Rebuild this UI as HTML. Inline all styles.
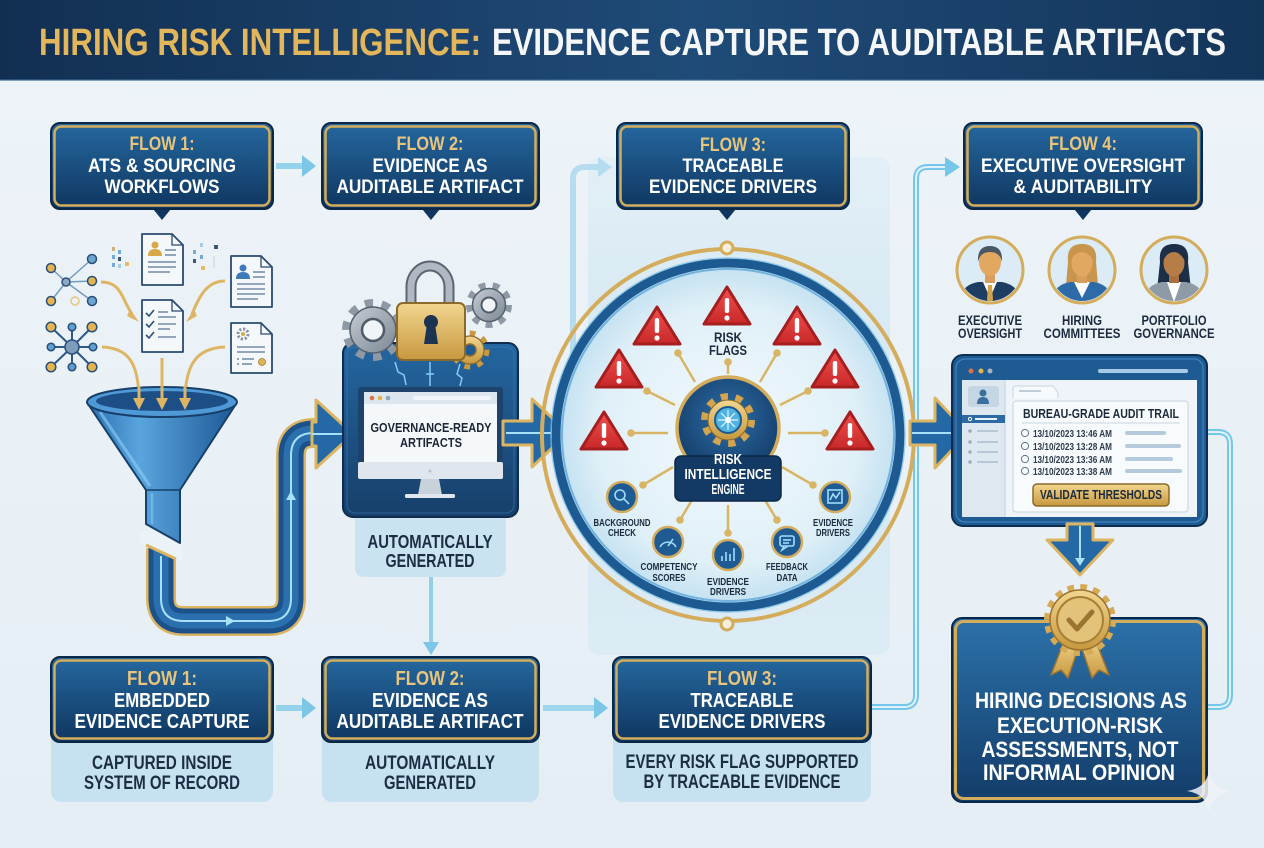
<!DOCTYPE html>
<html><head><meta charset="utf-8"><style>
html,body{margin:0;padding:0;background:#e9f1f7;}
svg{display:block;}
text{font-family:"Liberation Sans Narrow","Liberation Sans",sans-serif;font-weight:bold;}
</style></head><body>
<svg width="1264" height="848" viewBox="0 0 1264 848" xmlns="http://www.w3.org/2000/svg">
<defs>
<linearGradient id="bg" x1="0" y1="0" x2="0" y2="1"><stop offset="0" stop-color="#eef4f8"/><stop offset="1" stop-color="#e5eef5"/></linearGradient>
<linearGradient id="hdr" x1="0" y1="0" x2="1" y2="0"><stop offset="0" stop-color="#122f52"/><stop offset="0.55" stop-color="#1f4b78"/><stop offset="1" stop-color="#14355a"/></linearGradient>
<linearGradient id="box" x1="0" y1="0" x2="0" y2="1"><stop offset="0" stop-color="#25689f"/><stop offset="1" stop-color="#0f3660"/></linearGradient>
<linearGradient id="fbox" x1="0" y1="0" x2="0" y2="1"><stop offset="0" stop-color="#2c72aa"/><stop offset="1" stop-color="#133c69"/></linearGradient>
<linearGradient id="gold" x1="0" y1="0" x2="0" y2="1"><stop offset="0" stop-color="#f2d68f"/><stop offset="1" stop-color="#c7983f"/></linearGradient>
<linearGradient id="panel" x1="0" y1="0" x2="0" y2="1"><stop offset="0" stop-color="#e3eff6"/><stop offset="0.5" stop-color="#d2e7f3"/><stop offset="1" stop-color="#dcecf5"/></linearGradient>
<linearGradient id="red" x1="0" y1="0" x2="0" y2="1"><stop offset="0" stop-color="#f05050"/><stop offset="1" stop-color="#c82828"/></linearGradient>
<linearGradient id="funnel" x1="0" y1="0" x2="1" y2="0"><stop offset="0" stop-color="#2a6fb0"/><stop offset="0.35" stop-color="#5aa5de"/><stop offset="1" stop-color="#1c5895"/></linearGradient>
<linearGradient id="mon" x1="0" y1="0" x2="0" y2="1"><stop offset="0" stop-color="#2466a0"/><stop offset="1" stop-color="#173f6a"/></linearGradient>
<linearGradient id="grayg" x1="0" y1="0" x2="1" y2="1"><stop offset="0" stop-color="#c5ccd4"/><stop offset="1" stop-color="#7c8894"/></linearGradient>
<radialGradient id="ring" cx="0.5" cy="0.5" r="0.5"><stop offset="0" stop-color="#f2f9fd"/><stop offset="0.75" stop-color="#e0f0f8"/><stop offset="1" stop-color="#c2e0f0"/></radialGradient>
<radialGradient id="eng" cx="0.5" cy="0.4" r="0.6"><stop offset="0" stop-color="#2d6ea8"/><stop offset="1" stop-color="#143c68"/></radialGradient>
<clipPath id="c1"><circle cx="990" cy="270" r="31"/></clipPath>
<clipPath id="c2"><circle cx="1082" cy="270" r="31"/></clipPath>
<clipPath id="c3"><circle cx="1174" cy="270" r="31"/></clipPath>
</defs>

<!-- background -->
<rect width="1264" height="848" fill="url(#bg)"/>
<!-- header -->
<rect width="1264" height="80" fill="url(#hdr)"/>
<rect y="79" width="1264" height="2" fill="#3b6892" opacity="0.6"/>
<text x="39" y="55" font-size="38" fill="#e3b65c" textLength="442" lengthAdjust="spacingAndGlyphs">HIRING RISK INTELLIGENCE:</text>
<text x="492" y="55" font-size="38" fill="#f4f6f8" textLength="734" lengthAdjust="spacingAndGlyphs">EVIDENCE CAPTURE TO AUDITABLE ARTIFACTS</text>

<!-- light panel behind circle -->
<rect x="588" y="157" width="302" height="498" rx="12" fill="url(#panel)"/>

<!-- pale connector to box 3 -->
<path d="M573 410 V179 Q573 167 585 167 H600" stroke="#b6ddef" stroke-width="6" fill="none"/>
<polygon points="598,157 612,167 598,177" fill="#b6ddef"/>

<!-- right connector (bottom flow 3 -> flow 4) -->
<path d="M871 707 H904 Q916 707 916 695 V179 Q916 167 928 167 H948" stroke="#74c6ea" stroke-width="6" fill="none"/>
<path d="M871 707 H904 Q916 707 916 695 V179 Q916 167 928 167 H948" stroke="#dff2fa" stroke-width="2" fill="none"/>
<polygon points="945,157 960,167 945,177" fill="#74c6ea"/>
<!-- right-side connector window -> final box -->
<path d="M1200 432 H1218 Q1230 432 1230 444 V695 Q1230 707 1218 707 H1200" stroke="#74c6ea" stroke-width="6" fill="none"/>
<path d="M1200 432 H1218 Q1230 432 1230 444 V695 Q1230 707 1218 707 H1200" stroke="#dff2fa" stroke-width="2" fill="none"/>

<!-- top arrows between boxes -->
<rect x="276" y="163" width="28" height="6" fill="#94d2ec"/>
<polygon points="302,155 316,166 302,177" fill="#7cc7e8"/>
<!-- bottom arrows -->
<rect x="276" y="705" width="28" height="6" fill="#94d2ec"/>
<polygon points="302,697 316,708 302,719" fill="#7cc7e8"/>
<rect x="543" y="705" width="52" height="6" fill="#9fd6ee"/>
<polygon points="594,697 608,708 594,719" fill="#7cc7e8"/>
<!-- vertical arrow under automatically generated -->
<rect x="429" y="577" width="4" height="68" fill="#92d0ea"/>
<polygon points="423,642 439,642 431,655" fill="#7cc7e8"/>

<!-- ===== TOP BOXES ===== -->
<g>
<polygon points="149,204 175,204 162,220" fill="#0f3660"/>
<rect x="51" y="123" width="222" height="86" rx="9" fill="url(#box)" stroke="#0b2746" stroke-width="2"/>
<rect x="54.5" y="126.5" width="215" height="79" rx="7" fill="none" stroke="#d4ad5c" stroke-width="2.5"/>
<text x="162" y="150" text-anchor="middle" font-size="19" fill="#e8c47c" textLength="65" lengthAdjust="spacingAndGlyphs">FLOW 1:</text>
<text x="162" y="172" text-anchor="middle" font-size="19" fill="#fff" textLength="148" lengthAdjust="spacingAndGlyphs">ATS &amp; SOURCING</text>
<text x="162" y="193" text-anchor="middle" font-size="19" fill="#fff" textLength="115" lengthAdjust="spacingAndGlyphs">WORKFLOWS</text>
</g>
<g>
<polygon points="418,204 444,204 431,220" fill="#0f3660"/>
<rect x="322" y="123" width="217" height="86" rx="9" fill="url(#box)" stroke="#0b2746" stroke-width="2"/>
<rect x="325.5" y="126.5" width="210" height="79" rx="7" fill="none" stroke="#d4ad5c" stroke-width="2.5"/>
<text x="430" y="150" text-anchor="middle" font-size="19" fill="#e8c47c" textLength="67" lengthAdjust="spacingAndGlyphs">FLOW 2:</text>
<text x="430" y="172" text-anchor="middle" font-size="19" fill="#fff" textLength="115" lengthAdjust="spacingAndGlyphs">EVIDENCE AS</text>
<text x="430" y="193" text-anchor="middle" font-size="19" fill="#fff" textLength="187" lengthAdjust="spacingAndGlyphs">AUDITABLE ARTIFACT</text>
</g>
<g>
<polygon points="714,204 740,204 727,220" fill="#0f3660"/>
<rect x="617" y="123" width="232" height="86" rx="9" fill="url(#box)" stroke="#0b2746" stroke-width="2"/>
<rect x="620.5" y="126.5" width="225" height="79" rx="7" fill="none" stroke="#d4ad5c" stroke-width="2.5"/>
<text x="733" y="151" text-anchor="middle" font-size="19" fill="#e8c47c" textLength="66" lengthAdjust="spacingAndGlyphs">FLOW 3:</text>
<text x="733" y="172" text-anchor="middle" font-size="19" fill="#fff" textLength="101" lengthAdjust="spacingAndGlyphs">TRACEABLE</text>
<text x="733" y="193" text-anchor="middle" font-size="19" fill="#fff" textLength="168" lengthAdjust="spacingAndGlyphs">EVIDENCE DRIVERS</text>
</g>
<g>
<polygon points="1070,204 1096,204 1083,220" fill="#0f3660"/>
<rect x="964" y="123" width="238" height="86" rx="9" fill="url(#box)" stroke="#0b2746" stroke-width="2"/>
<rect x="967.5" y="126.5" width="231" height="79" rx="7" fill="none" stroke="#d4ad5c" stroke-width="2.5"/>
<text x="1083" y="150" text-anchor="middle" font-size="19" fill="#e8c47c" textLength="68" lengthAdjust="spacingAndGlyphs">FLOW 4:</text>
<text x="1083" y="172" text-anchor="middle" font-size="19" fill="#fff" textLength="204" lengthAdjust="spacingAndGlyphs">EXECUTIVE OVERSIGHT</text>
<text x="1083" y="193" text-anchor="middle" font-size="19" fill="#fff" textLength="139" lengthAdjust="spacingAndGlyphs">&amp; AUDITABILITY</text>
</g>

<!-- ===== LEFT ILLUSTRATION ===== -->
<!-- network 1 -->
<g stroke="#6f9cc0" stroke-width="1.5">
<line x1="66" y1="282" x2="51" y2="268"/><line x1="66" y1="282" x2="92" y2="259"/><line x1="66" y1="282" x2="92" y2="281"/><line x1="66" y1="282" x2="51" y2="301"/><line x1="66" y1="282" x2="92" y2="301"/>
</g>
<g stroke="#2b4f78" stroke-width="1.5">
<circle cx="51" cy="268" r="4.5" fill="#e2b452"/><circle cx="92" cy="259" r="4.5" fill="#6aa6d2"/><circle cx="92" cy="281" r="4.5" fill="#e2b452"/><circle cx="51" cy="301" r="4.5" fill="#e2b452"/><circle cx="92" cy="301" r="4.5" fill="#6aa6d2"/>
<circle cx="66" cy="282" r="4" fill="#8fa9c2"/>
</g>
<circle cx="75" cy="301" r="4" fill="none" stroke="#e2b452" stroke-width="1.5" opacity="0.7"/>
<!-- network 2 -->
<g stroke="#2b5a88" stroke-width="2">
<line x1="72" y1="347" x2="51" y2="327"/><line x1="72" y1="347" x2="72" y2="327"/><line x1="72" y1="347" x2="92" y2="327"/><line x1="72" y1="347" x2="51" y2="347"/><line x1="72" y1="347" x2="93" y2="347"/><line x1="72" y1="347" x2="51" y2="367"/><line x1="72" y1="347" x2="72" y2="367"/><line x1="72" y1="347" x2="92" y2="367"/>
</g>
<g stroke="#2b4f78" stroke-width="1.5">
<circle cx="51" cy="327" r="4.8" fill="#e2b452"/><circle cx="72" cy="327" r="3.8" fill="#5e9fd0"/><circle cx="92" cy="327" r="4.8" fill="#e2b452"/><circle cx="51" cy="347" r="3.8" fill="#5e9fd0"/><circle cx="93" cy="347" r="3.8" fill="#5e9fd0"/><circle cx="51" cy="367" r="4.8" fill="#e2b452"/><circle cx="72" cy="367" r="3.8" fill="#5e9fd0"/><circle cx="92" cy="367" r="4.8" fill="#e2b452"/>
<circle cx="72" cy="347" r="7" fill="#7d9dbd"/>
</g>
<!-- small bar dots -->
<g opacity="0.85">
<rect x="112" y="247" width="3" height="4" fill="#c9a86a"/><rect x="112" y="255" width="3" height="4" fill="#5e9fd0"/><rect x="112" y="263" width="3" height="4" fill="#5e9fd0"/>
<rect x="118" y="250" width="3" height="4" fill="#5e9fd0"/><rect x="118" y="257" width="3" height="4" fill="#1d3c66"/><rect x="118" y="264" width="3" height="4" fill="#9cc6e4"/>
<rect x="125" y="262" width="4" height="4" fill="#e2b452"/>
<rect x="193" y="250" width="3" height="4" fill="#5e9fd0"/><rect x="193" y="259" width="3" height="4" fill="#1d3c66"/>
<rect x="200" y="243" width="3" height="4" fill="#9cc6e4"/><rect x="200" y="255" width="3" height="4" fill="#5e9fd0"/><rect x="201" y="266" width="4" height="4" fill="#e2b452"/>
<rect x="214" y="245" width="4" height="4" fill="#1d3c66"/><rect x="213" y="256" width="2" height="12" fill="#cfe2ef"/>
</g>
<!-- gold curved arrows -->
<g stroke="#ddb565" stroke-width="3" fill="none">
<path d="M101 282 C122 282 122 300 132 314"/>
<path d="M225 281 C205 281 198 300 192 314"/>
<path d="M102 347 C130 348 139 365 139 402"/>
<path d="M162 358 V402"/>
<path d="M225 347 C196 348 185 365 185 402"/>
</g>
<g fill="#ddb565">
<polygon points="127,316 139,322 130,309"/>
<polygon points="197,316 186,322 194,309"/>
</g>
<!-- docs -->
<g stroke="#2b4a70" stroke-width="1.8" stroke-linejoin="round">
<path d="M142 234 H172 L183 245 V285 H142 Z" fill="#f4f8fb"/>
<path d="M142 300 H172 L183 311 V352 H142 Z" fill="#f4f8fb"/>
<path d="M231 256 H261 L272 267 V307 H231 Z" fill="#f4f8fb"/>
<path d="M231 323 H261 L272 334 V373 H231 Z" fill="#f4f8fb"/>
</g>
<g fill="none" stroke="#2b4a70" stroke-width="1.3">
<path d="M172 234 V245 H183"/><path d="M172 300 V311 H183"/><path d="M261 256 V267 H272"/><path d="M261 323 V334 H272"/>
</g>
<!-- doc contents -->
<circle cx="155" cy="245" r="3.5" fill="#d9a948"/><path d="M148 256 Q148 249 155 249 Q162 249 162 256 Z" fill="#d9a948"/>
<g stroke="#5a7696" stroke-width="1.3"><line x1="165" y1="250" x2="176" y2="250"/><line x1="165" y1="255" x2="176" y2="255"/><line x1="148" y1="262" x2="176" y2="262"/><line x1="148" y1="267" x2="176" y2="267"/><line x1="148" y1="272" x2="170" y2="272"/></g>
<g stroke="#2b4f78" stroke-width="1.6" fill="none"><path d="M146 313 l3 3 l5 -6"/><path d="M146 324 l3 3 l5 -6"/><path d="M146 335 l3 3 l5 -6"/></g>
<g stroke="#5a7696" stroke-width="1.3"><line x1="158" y1="312" x2="168" y2="312"/><line x1="158" y1="317" x2="176" y2="317"/><line x1="158" y1="324" x2="176" y2="324"/><line x1="158" y1="329" x2="170" y2="329"/><line x1="158" y1="337" x2="176" y2="337"/></g>
<circle cx="243" cy="268" r="3.5" fill="#3d7ab8"/><path d="M236 279 Q236 272 243 272 Q250 272 250 279 Z" fill="#3d7ab8"/>
<g stroke="#5a7696" stroke-width="1.3"><line x1="253" y1="272" x2="265" y2="272"/><line x1="253" y1="277" x2="265" y2="277"/><line x1="237" y1="284" x2="265" y2="284"/><line x1="237" y1="289" x2="265" y2="289"/><line x1="237" y1="294" x2="265" y2="294"/><line x1="237" y1="299" x2="258" y2="299"/></g>
<circle cx="243" cy="334" r="5" fill="none" stroke="#8a96a3" stroke-width="3" stroke-dasharray="2.2 1.7"/><circle cx="243" cy="334" r="2" fill="#d9a948"/>
<g stroke="#5a7696" stroke-width="1.3"><line x1="237" y1="347" x2="265" y2="347"/><line x1="237" y1="352" x2="265" y2="352"/><line x1="237" y1="359" x2="239" y2="359"/><line x1="242" y1="359" x2="254" y2="359"/><line x1="237" y1="364" x2="239" y2="364"/><line x1="242" y1="364" x2="252" y2="364"/></g>
<circle cx="262" cy="362" r="3.5" fill="#e2b452" stroke="#9c7b35" stroke-width="0.8"/>

<!-- pipe (drawn before funnel) -->
<path d="M161 548 V598 Q161 621 184 621 H268 Q291 621 291 598 V456 Q291 433 314 433 H322" fill="none" stroke="#dcb563" stroke-width="30"/>
<path d="M161 548 V598 Q161 621 184 621 H268 Q291 621 291 598 V456 Q291 433 314 433 H322" fill="none" stroke="#1c5189" stroke-width="25"/>
<path d="M161 548 V598 Q161 621 184 621 H268 Q291 621 291 598 V456 Q291 433 314 433 H322" fill="none" stroke="#2a6fae" stroke-width="15"/>
<path d="M161 556 V598 Q161 621 184 621 H268 Q291 621 291 598 V456 Q291 433 314 433 H330" fill="none" stroke="#a6e0fb" stroke-width="2"/>
<!-- slanted pipe top cut -->
<polygon points="140,530 140,544 182,562 182,530" fill="#ecf3f8"/>
<path d="M146 545 L176 559" stroke="#dcb563" stroke-width="3"/>
<polygon points="226,616 235,621 226,626" fill="#a6e0fb"/>
<polygon points="286,500 291,491 296,500" fill="#a6e0fb"/>
<polygon points="316,422 316,400 353,434 316,468 316,446 312,446 312,422" fill="#2468a6" stroke="#dcb563" stroke-width="3" stroke-linejoin="round"/>
<path d="M312 434 H345" stroke="#a6e0fb" stroke-width="2"/>

<!-- funnel -->
<path d="M88 404 L146 490 V524 L180 543 V490 L236 404 Z" fill="url(#funnel)" stroke="#173f6a" stroke-width="2" stroke-linejoin="round"/>
<path d="M146 490 H180" stroke="#173f6a" stroke-width="1.5"/>
<path d="M100 412 L150 486" stroke="#8fd0f5" stroke-width="3" opacity="0.6"/>
<path d="M152 493 V524" stroke="#8fd0f5" stroke-width="2.5" opacity="0.5"/>
<ellipse cx="162" cy="402" rx="75" ry="15" fill="#4f9ad6" stroke="#173f6a" stroke-width="2"/>
<ellipse cx="162" cy="401" rx="66" ry="10" fill="#1d4f86"/>
<g fill="#ddb565">
<polygon points="133,398 145,398 139,410"/>
<polygon points="156,398 168,398 162,410"/>
<polygon points="179,398 191,398 185,410"/>
</g>
<g stroke="#ddb565" stroke-width="3"><line x1="139" y1="386" x2="139" y2="400"/><line x1="162" y1="386" x2="162" y2="400"/><line x1="185" y1="386" x2="185" y2="400"/></g>

<!-- auto generated panel -->
<rect x="355" y="500" width="151" height="77" rx="8" fill="#c9e3f1"/>
<text x="430" y="548" text-anchor="middle" font-size="18" fill="#1c2d44" font-weight="normal" textLength="125" lengthAdjust="spacingAndGlyphs">AUTOMATICALLY</text>
<text x="430" y="567" text-anchor="middle" font-size="18" fill="#1c2d44" font-weight="normal" textLength="89" lengthAdjust="spacingAndGlyphs">GENERATED</text>

<!-- monitor panel -->
<rect x="343" y="343" width="175" height="174" rx="10" fill="url(#mon)" stroke="#0e2d50" stroke-width="2"/>
<rect x="347" y="347" width="167" height="166" rx="8" fill="none" stroke="#3b7dba" stroke-width="1" opacity="0.6"/>
<g stroke="#8fd8ff" stroke-width="1.5" fill="none" opacity="0.9">
<path d="M395 362 L398 372 L404 375 L406 385"/><path d="M430 362 V386 M426 374 H434"/><path d="M460 364 L457 374 L462 378 L460 386"/>
</g>
<rect x="358" y="387" width="145" height="77" rx="3" fill="#1d426c"/>
<rect x="358" y="462" width="145" height="17" rx="2" fill="#dfe6ed"/>
<circle cx="430" cy="471" r="1.5" fill="#b8c4cf"/>
<path d="M421 479 H439 L442 495 H418 Z" fill="#c9d2da"/>
<rect x="405" y="494" width="50" height="4" rx="1.5" fill="#dfe6ed"/>
<rect x="364" y="392" width="133" height="70" fill="#f5f8fb"/>
<rect x="364" y="392" width="133" height="12" fill="#dce6ef"/>
<circle cx="372" cy="398" r="2.3" fill="#e0704a"/><circle cx="380" cy="398" r="2.3" fill="#e6b34a"/><circle cx="388" cy="398" r="2.3" fill="#8fa5b8"/>
<rect x="413" y="396" width="78" height="4" rx="2" fill="#f2f6fa"/>
<text x="431" y="432" text-anchor="middle" font-size="12.5" fill="#1c2535" textLength="121" lengthAdjust="spacingAndGlyphs">GOVERNANCE-READY</text>
<text x="431" y="447" text-anchor="middle" font-size="12.5" fill="#1c2535" textLength="62" lengthAdjust="spacingAndGlyphs">ARTIFACTS</text>
<!-- gears -->
<g transform="translate(373,330)">
<circle r="26" fill="none" stroke="#8e99a5" stroke-width="10" stroke-dasharray="8 8.34"/>
<circle r="23" fill="url(#grayg)" stroke="#55626f" stroke-width="1.5"/>
<circle r="11" fill="#f0f4f8" stroke="#4d5a67" stroke-width="2.5"/>
</g>
<g transform="translate(489,305)">
<circle r="19" fill="none" stroke="#8e99a5" stroke-width="8" stroke-dasharray="6.5 6.77"/>
<circle r="16.5" fill="url(#grayg)" stroke="#55626f" stroke-width="1.5"/>
<circle r="7.5" fill="#f0f4f8" stroke="#4d5a67" stroke-width="2"/>
</g>
<g transform="translate(470,350)">
<circle r="16" fill="none" stroke="#c99a40" stroke-width="7" stroke-dasharray="5.5 7"/>
<circle r="14" fill="url(#gold)" stroke="#8d6a2c" stroke-width="1.2"/>
<circle r="6" fill="#1f5a93" stroke="#8d6a2c" stroke-width="1.5"/>
</g>
<!-- lock -->
<path d="M411 305 V287 A19 21 0 0 1 449 287 V305" fill="none" stroke="#5b6470" stroke-width="11"/>
<path d="M411 305 V287 A19 21 0 0 1 449 287 V305" fill="none" stroke="#b0b9c2" stroke-width="7"/>
<rect x="397" y="303" width="68" height="57" rx="6" fill="url(#gold)" stroke="#8a6a2a" stroke-width="2"/>
<circle cx="431" cy="322" r="7" fill="#1c3352"/>
<path d="M427 324 L424 344 H438 L435 324 Z" fill="#1c3352"/>
<!-- arrow to circle -->
<polygon points="503,421 532,421 532,399 568,433 532,467 532,445 503,445" fill="#2468a6" stroke="#dcb563" stroke-width="3" stroke-linejoin="round"/>
<path d="M506 433 H558" stroke="#a6e0fb" stroke-width="2"/>
<polygon points="551,428 560,433 551,438" fill="#a6e0fb"/>

<!-- ===== CIRCLE ENGINE ===== -->
<circle cx="728" cy="435" r="172" fill="url(#ring)"/>
<circle cx="728" cy="435" r="186" fill="none" stroke="#d4ad5c" stroke-width="4"/>
<circle cx="728" cy="435" r="172" fill="none" stroke="#1e5a92" stroke-width="9"/>
<circle cx="728" cy="435" r="166" fill="none" stroke="#6fb3de" stroke-width="2"/>
<circle cx="728" cy="435" r="177" fill="none" stroke="#7cc0e4" stroke-width="1.5" opacity="0.7"/>
<circle cx="727" cy="248" r="6" fill="#f6efde" stroke="#d4ad5c" stroke-width="3"/>
<circle cx="727" cy="624" r="6" fill="#f6efde" stroke="#d4ad5c" stroke-width="3"/>
<!-- spokes -->
<g stroke="#d8b565" stroke-width="2.5">
<line x1="728" y1="362" x2="728" y2="374"/>
<line x1="678" y1="353" x2="695" y2="382"/>
<line x1="777" y1="353" x2="760" y2="382"/>
<line x1="647" y1="391" x2="675" y2="405"/>
<line x1="808" y1="391" x2="780" y2="405"/>
<line x1="631" y1="433" x2="668" y2="433"/>
<line x1="825" y1="433" x2="788" y2="433"/>
<line x1="643" y1="485" x2="673" y2="467"/>
<line x1="813" y1="485" x2="782" y2="467"/>
<line x1="680" y1="520" x2="692" y2="500"/>
<line x1="728" y1="533" x2="728" y2="505"/>
<line x1="777" y1="520" x2="765" y2="500"/>
</g>
<g fill="#d8b565">
<circle cx="728" cy="362" r="3.8"/><circle cx="678" cy="353" r="3.8"/><circle cx="777" cy="353" r="3.8"/><circle cx="647" cy="391" r="3.8"/><circle cx="808" cy="391" r="3.8"/><circle cx="631" cy="433" r="3.8"/><circle cx="825" cy="433" r="3.8"/><circle cx="643" cy="485" r="3.8"/><circle cx="813" cy="485" r="3.8"/><circle cx="680" cy="520" r="3.8"/><circle cx="728" cy="533" r="3.8"/><circle cx="777" cy="520" r="3.8"/>
</g>
<!-- triangles -->
<g>
<g transform="translate(727,285)"><path d="M0 2 L23 39 L-23 39 Z" fill="url(#red)" stroke="#a61e1e" stroke-width="3" stroke-linejoin="round"/><rect x="-2.2" y="13" width="4.4" height="15" rx="2" fill="#fff"/><circle cy="33" r="2.6" fill="#fff"/></g>
<g transform="translate(657,305)"><path d="M0 2 L23 39 L-23 39 Z" fill="url(#red)" stroke="#a61e1e" stroke-width="3" stroke-linejoin="round"/><rect x="-2.2" y="13" width="4.4" height="15" rx="2" fill="#fff"/><circle cy="33" r="2.6" fill="#fff"/></g>
<g transform="translate(797,305)"><path d="M0 2 L23 39 L-23 39 Z" fill="url(#red)" stroke="#a61e1e" stroke-width="3" stroke-linejoin="round"/><rect x="-2.2" y="13" width="4.4" height="15" rx="2" fill="#fff"/><circle cy="33" r="2.6" fill="#fff"/></g>
<g transform="translate(619,348)"><path d="M0 2 L23 39 L-23 39 Z" fill="url(#red)" stroke="#a61e1e" stroke-width="3" stroke-linejoin="round"/><rect x="-2.2" y="13" width="4.4" height="15" rx="2" fill="#fff"/><circle cy="33" r="2.6" fill="#fff"/></g>
<g transform="translate(835,348)"><path d="M0 2 L23 39 L-23 39 Z" fill="url(#red)" stroke="#a61e1e" stroke-width="3" stroke-linejoin="round"/><rect x="-2.2" y="13" width="4.4" height="15" rx="2" fill="#fff"/><circle cy="33" r="2.6" fill="#fff"/></g>
<g transform="translate(604,410)"><path d="M0 2 L23 39 L-23 39 Z" fill="url(#red)" stroke="#a61e1e" stroke-width="3" stroke-linejoin="round"/><rect x="-2.2" y="13" width="4.4" height="15" rx="2" fill="#fff"/><circle cy="33" r="2.6" fill="#fff"/></g>
<g transform="translate(850,410)"><path d="M0 2 L23 39 L-23 39 Z" fill="url(#red)" stroke="#a61e1e" stroke-width="3" stroke-linejoin="round"/><rect x="-2.2" y="13" width="4.4" height="15" rx="2" fill="#fff"/><circle cy="33" r="2.6" fill="#fff"/></g>
</g>
<text x="728" y="342" text-anchor="middle" font-size="13.5" fill="#1b2a3e" textLength="28" lengthAdjust="spacingAndGlyphs">RISK</text>
<text x="728" y="355" text-anchor="middle" font-size="13.5" fill="#1b2a3e" textLength="38" lengthAdjust="spacingAndGlyphs">FLAGS</text>
<!-- engine -->
<circle cx="728" cy="428" r="51" fill="url(#eng)" stroke="#d4ad5c" stroke-width="3.5"/>
<g transform="translate(728,420)">
<circle r="23" fill="none" stroke="#d2a64e" stroke-width="8" stroke-dasharray="7 7.45"/>
<circle r="20" fill="url(#gold)" stroke="#8d6a2c" stroke-width="1"/>
<circle r="13" fill="#4fb3e4" stroke="#1e5a92" stroke-width="2"/>
<g stroke="#e6f7ff" stroke-width="1.2"><line x1="-10" y1="0" x2="10" y2="0"/><line x1="0" y1="-10" x2="0" y2="10"/><line x1="-7" y1="-7" x2="7" y2="7"/><line x1="-7" y1="7" x2="7" y2="-7"/></g>
<circle r="3" fill="#fff"/>
</g>
<rect x="675" y="456" width="106" height="45" rx="6" fill="#133a64" stroke="#0b2746" stroke-width="1.5"/>
<text x="728" y="464" text-anchor="middle" font-size="15" fill="#fff" textLength="28" lengthAdjust="spacingAndGlyphs">RISK</text>
<text x="728" y="479" text-anchor="middle" font-size="15" fill="#fff" textLength="87" lengthAdjust="spacingAndGlyphs">INTELLIGENCE</text>
<text x="728" y="494" text-anchor="middle" font-size="15" fill="#fff" textLength="33" lengthAdjust="spacingAndGlyphs">ENGINE</text>
<!-- bottom icons -->
<g stroke="#d4ad5c" stroke-width="2.5" fill="#1f5b93">
<circle cx="622" cy="497" r="15"/><circle cx="668" cy="542" r="15"/><circle cx="728" cy="555" r="15"/><circle cx="787" cy="542" r="15"/><circle cx="835" cy="497" r="15"/>
</g>
<g stroke="#9fdcfb" stroke-width="1.6" fill="none">
<circle cx="620" cy="495" r="5"/><line x1="624" y1="499" x2="629" y2="504"/>
<path d="M660 547 A9 9 0 0 1 676 547"/><line x1="668" y1="546" x2="673" y2="539"/>
<path d="M722 561 V556 M726 561 V552 M730 561 V554 M734 561 V548"/>
<rect x="780" y="536" width="14" height="10" rx="2"/><path d="M784 546 L782 550 L788 546"/><line x1="783" y1="540" x2="791" y2="540"/><line x1="783" y1="543" x2="789" y2="543"/>
<rect x="828" y="490" width="14" height="13"/><path d="M830 500 L833 494 L836 498 L840 492"/>
</g>
<g font-size="10.5" fill="#1b2a3e">
<text x="622" y="526" text-anchor="middle" textLength="57" lengthAdjust="spacingAndGlyphs">BACKGROUND</text>
<text x="622" y="536" text-anchor="middle" textLength="28" lengthAdjust="spacingAndGlyphs">CHECK</text>
<text x="669" y="570" text-anchor="middle" textLength="57" lengthAdjust="spacingAndGlyphs">COMPETENCY</text>
<text x="669" y="581" text-anchor="middle" textLength="33" lengthAdjust="spacingAndGlyphs">SCORES</text>
<text x="728" y="585" text-anchor="middle" textLength="42" lengthAdjust="spacingAndGlyphs">EVIDENCE</text>
<text x="728" y="595" text-anchor="middle" textLength="36" lengthAdjust="spacingAndGlyphs">DRIVERS</text>
<text x="787" y="570" text-anchor="middle" textLength="42" lengthAdjust="spacingAndGlyphs">FEEDBACK</text>
<text x="787" y="581" text-anchor="middle" textLength="21" lengthAdjust="spacingAndGlyphs">DATA</text>
<text x="833" y="526" text-anchor="middle" textLength="40" lengthAdjust="spacingAndGlyphs">EVIDENCE</text>
<text x="833" y="536" text-anchor="middle" textLength="34" lengthAdjust="spacingAndGlyphs">DRIVERS</text>
</g>

<!-- arrow circle -> window -->
<polygon points="910,421 935,421 935,398 968,433 935,468 935,445 910,445" fill="#2468a6" stroke="#dcb563" stroke-width="3" stroke-linejoin="round"/>
<path d="M912 433 H958" stroke="#a6e0fb" stroke-width="2"/>

<!-- ===== AVATARS ===== -->
<g>
<circle cx="990" cy="270" r="33" fill="#dcecf6" stroke="#d4ad5c" stroke-width="3"/>
<g clip-path="url(#c1)">
<path d="M958 305 Q960 285 978 282 H1002 Q1020 285 1022 305 Z" fill="#1e3d63"/>
<path d="M983 282 L990 298 L997 282 Z" fill="#fff"/>
<path d="M988 285 H992 L993 300 L990 303 L987 300 Z" fill="#d4a24a"/>
<rect x="985" y="272" width="10" height="11" fill="#d99e5c"/>
<ellipse cx="990" cy="262" rx="11" ry="14" fill="#e2a862"/>
<path d="M978 262 Q977 246 990 246 Q1003 246 1002 262 Q1000 252 990 252 Q980 252 978 262 Z" fill="#4a5866"/>
</g>
</g>
<g>
<circle cx="1082" cy="270" r="33" fill="#dcecf6" stroke="#d4ad5c" stroke-width="3"/>
<g clip-path="url(#c2)">
<path d="M1068 262 Q1066 244 1082 244 Q1098 244 1096 262 L1098 285 H1066 Z" fill="#c8954c"/>
<path d="M1050 305 Q1052 285 1070 282 H1094 Q1112 285 1114 305 Z" fill="#2d6aa8"/>
<path d="M1074 282 L1082 298 L1090 282 Z" fill="#fff"/>
<rect x="1077" y="272" width="10" height="11" fill="#d99e5c"/>
<ellipse cx="1082" cy="263" rx="10.5" ry="13.5" fill="#e2a862"/>
<path d="M1071 260 Q1072 248 1082 248 Q1093 248 1093 260 Q1088 252 1082 252 Q1075 252 1071 260 Z" fill="#c8954c"/>
</g>
</g>
<g>
<circle cx="1174" cy="270" r="33" fill="#dcecf6" stroke="#d4ad5c" stroke-width="3"/>
<g clip-path="url(#c3)">
<path d="M1160 262 Q1158 244 1174 244 Q1190 244 1188 262 L1191 290 H1157 Z" fill="#1d2f47"/>
<path d="M1142 305 Q1144 285 1162 282 H1186 Q1204 285 1206 305 Z" fill="#8e9aa6"/>
<path d="M1167 282 L1174 302 L1181 282 Z" fill="#fff"/>
<rect x="1169" y="272" width="10" height="11" fill="#a8703f"/>
<ellipse cx="1174" cy="263" rx="10.5" ry="13.5" fill="#b77d47"/>
<path d="M1163 261 Q1164 248 1174 248 Q1185 248 1185 261 Q1180 252 1174 252 Q1167 252 1163 261 Z" fill="#1d2f47"/>
</g>
</g>
<g font-size="13.5" fill="#1b2a3e">
<text x="990" y="325" text-anchor="middle" textLength="64" lengthAdjust="spacingAndGlyphs">EXECUTIVE</text>
<text x="990" y="338" text-anchor="middle" textLength="64" lengthAdjust="spacingAndGlyphs">OVERSIGHT</text>
<text x="1082" y="325" text-anchor="middle" textLength="40" lengthAdjust="spacingAndGlyphs">HIRING</text>
<text x="1082" y="338" text-anchor="middle" textLength="77" lengthAdjust="spacingAndGlyphs">COMMITTEES</text>
<text x="1174" y="325" text-anchor="middle" textLength="65" lengthAdjust="spacingAndGlyphs">PORTFOLIO</text>
<text x="1174" y="338" text-anchor="middle" textLength="81" lengthAdjust="spacingAndGlyphs">GOVERNANCE</text>
</g>

<!-- ===== AUDIT WINDOW ===== -->
<rect x="952" y="355" width="255" height="171" rx="11" fill="#1f5b93" stroke="#0e2d50" stroke-width="2"/>
<rect x="956" y="359" width="247" height="163" rx="9" fill="none" stroke="#4a8ac4" stroke-width="1"/>
<circle cx="971" cy="371" r="2.5" fill="#e0704a"/><circle cx="981" cy="371" r="2.5" fill="#e6b34a"/><circle cx="990" cy="371" r="2.5" fill="#a7b4c0"/>
<rect x="1098" y="369" width="90" height="4" rx="2" fill="#a6cbe6"/>
<rect x="962" y="380" width="235" height="137" fill="#eef4f9"/>
<rect x="962" y="380" width="43" height="137" fill="#dde8f1"/>
<line x1="1005" y1="380" x2="1005" y2="517" stroke="#c2d1de" stroke-width="1"/>
<rect x="968" y="386" width="31" height="21" rx="3" fill="#c4d5e3"/>
<circle cx="983" cy="393" r="3.5" fill="#3d6f9e"/><path d="M977 404 Q977 397 983 397 Q989 397 989 404 Z" fill="#3d6f9e"/>
<rect x="962" y="415" width="43" height="8" fill="#2c6aa5"/>
<circle cx="970" cy="419" r="1.6" fill="none" stroke="#fff" stroke-width="1"/><rect x="975" y="418" width="22" height="2" fill="#e6f1fa"/>
<g fill="#9aaebf"><circle cx="970" cy="431" r="1.8"/><circle cx="970" cy="442" r="1.8"/><circle cx="970" cy="452" r="1.8"/><circle cx="970" cy="462" r="1.8"/></g>
<g fill="#b7c7d5"><rect x="977" y="430" width="21" height="2"/><rect x="977" y="441" width="21" height="2"/><rect x="977" y="451" width="21" height="2"/><rect x="977" y="461" width="21" height="2"/></g>
<path d="M1013 398 V389 Q1013 386 1016 386 H1053 L1058 393 V398" fill="#f7fafc" stroke="#c7d4e0" stroke-width="1"/>
<rect x="1019" y="390" width="22" height="2" fill="#c0ceda"/>
<rect x="1013" y="401" width="175" height="111" rx="3" fill="#f8fbfd" stroke="#c5d3df" stroke-width="1"/>
<text x="1101" y="418" text-anchor="middle" font-size="13" fill="#1b2a3a" textLength="156" lengthAdjust="spacingAndGlyphs">BUREAU-GRADE AUDIT TRAIL</text>
<line x1="1022" y1="423" x2="1180" y2="423" stroke="#c9d5df" stroke-width="1"/>
<g fill="none" stroke="#5b7593" stroke-width="1"><circle cx="1025" cy="433" r="3.6"/><circle cx="1025" cy="446" r="3.6"/><circle cx="1025" cy="459" r="3.6"/><circle cx="1025" cy="471" r="3.6"/></g>
<g font-size="10" fill="#2c3b4c">
<text x="1033" y="437" textLength="79" lengthAdjust="spacingAndGlyphs" font-weight="normal">13/10/2023 13:46 AM</text>
<text x="1033" y="450" textLength="79" lengthAdjust="spacingAndGlyphs" font-weight="normal">13/10/2023 13:28 AM</text>
<text x="1033" y="463" textLength="79" lengthAdjust="spacingAndGlyphs" font-weight="normal">13/10/2023 13:36 AM</text>
<text x="1033" y="475" textLength="79" lengthAdjust="spacingAndGlyphs" font-weight="normal">13/10/2023 13:38 AM</text>
</g>
<g fill="#b5cadd"><rect x="1125" y="431" width="41" height="4" rx="2"/><rect x="1125" y="444" width="56" height="4" rx="2"/><rect x="1125" y="457" width="48" height="4" rx="2"/><rect x="1125" y="469" width="57" height="4" rx="2"/></g>
<rect x="1033" y="484" width="136" height="22" rx="4" fill="url(#gold)" stroke="#8a6a2a" stroke-width="1.5"/>
<text x="1101" y="499" text-anchor="middle" font-size="12.5" fill="#1b2a3a" textLength="122" lengthAdjust="spacingAndGlyphs">VALIDATE THRESHOLDS</text>

<!-- down arrow -->
<polygon points="1067,524 1093,524 1093,540 1113,540 1080,575 1047,540 1067,540" fill="#2468a6" stroke="#dcb563" stroke-width="3" stroke-linejoin="round"/>
<path d="M1080 526 V562" stroke="#a6e0fb" stroke-width="2"/>
<polygon points="1075,558 1085,558 1080,566" fill="#a6e0fb"/>

<!-- ===== BOTTOM BOXES ===== -->
<rect x="51" y="730" width="222" height="72" rx="10" fill="#c6e2f0"/>
<rect x="322" y="730" width="217" height="72" rx="10" fill="#c6e2f0"/>
<rect x="613" y="730" width="258" height="72" rx="10" fill="#c6e2f0"/>
<g>
<rect x="51" y="657" width="222" height="85" rx="9" fill="url(#box)" stroke="#0b2746" stroke-width="2"/>
<rect x="54.5" y="660.5" width="215" height="78" rx="7" fill="none" stroke="#d4ad5c" stroke-width="2.5"/>
<text x="162" y="685" text-anchor="middle" font-size="20.5" fill="#e8c47c" textLength="70" lengthAdjust="spacingAndGlyphs">FLOW 1:</text>
<text x="162" y="707" text-anchor="middle" font-size="20.5" fill="#fff" textLength="96" lengthAdjust="spacingAndGlyphs">EMBEDDED</text>
<text x="162" y="728" text-anchor="middle" font-size="20.5" fill="#fff" textLength="175" lengthAdjust="spacingAndGlyphs">EVIDENCE CAPTURE</text>
<text x="162" y="769" text-anchor="middle" font-size="19" fill="#1c2d44" font-weight="normal" textLength="140" lengthAdjust="spacingAndGlyphs">CAPTURED INSIDE</text>
<text x="162" y="789" text-anchor="middle" font-size="19" fill="#1c2d44" font-weight="normal" textLength="156" lengthAdjust="spacingAndGlyphs">SYSTEM OF RECORD</text>
</g>
<g>
<rect x="322" y="657" width="217" height="85" rx="9" fill="url(#box)" stroke="#0b2746" stroke-width="2"/>
<rect x="325.5" y="660.5" width="210" height="78" rx="7" fill="none" stroke="#d4ad5c" stroke-width="2.5"/>
<text x="430" y="685" text-anchor="middle" font-size="20.5" fill="#e8c47c" textLength="69" lengthAdjust="spacingAndGlyphs">FLOW 2:</text>
<text x="430" y="707" text-anchor="middle" font-size="20.5" fill="#fff" textLength="116" lengthAdjust="spacingAndGlyphs">EVIDENCE AS</text>
<text x="430" y="728" text-anchor="middle" font-size="20.5" fill="#fff" textLength="187" lengthAdjust="spacingAndGlyphs">AUDITABLE ARTIFACT</text>
<text x="430" y="769" text-anchor="middle" font-size="19" fill="#1c2d44" font-weight="normal" textLength="130" lengthAdjust="spacingAndGlyphs">AUTOMATICALLY</text>
<text x="430" y="789" text-anchor="middle" font-size="19" fill="#1c2d44" font-weight="normal" textLength="92" lengthAdjust="spacingAndGlyphs">GENERATED</text>
</g>
<g>
<rect x="613" y="657" width="258" height="85" rx="9" fill="url(#box)" stroke="#0b2746" stroke-width="2"/>
<rect x="616.5" y="660.5" width="251" height="78" rx="7" fill="none" stroke="#d4ad5c" stroke-width="2.5"/>
<text x="742" y="685" text-anchor="middle" font-size="20.5" fill="#e8c47c" textLength="70" lengthAdjust="spacingAndGlyphs">FLOW 3:</text>
<text x="742" y="707" text-anchor="middle" font-size="20.5" fill="#fff" textLength="103" lengthAdjust="spacingAndGlyphs">TRACEABLE</text>
<text x="742" y="728" text-anchor="middle" font-size="20.5" fill="#fff" textLength="167" lengthAdjust="spacingAndGlyphs">EVIDENCE DRIVERS</text>
<text x="742" y="768" text-anchor="middle" font-size="19" fill="#1c2d44" font-weight="normal" textLength="233" lengthAdjust="spacingAndGlyphs">EVERY RISK FLAG SUPPORTED</text>
<text x="742" y="788" text-anchor="middle" font-size="19" fill="#1c2d44" font-weight="normal" textLength="197" lengthAdjust="spacingAndGlyphs">BY TRACEABLE EVIDENCE</text>
</g>

<!-- ===== FINAL BOX ===== -->
<rect x="952" y="618" width="255" height="184" rx="10" fill="url(#fbox)" stroke="#0b2746" stroke-width="2"/>
<rect x="955.5" y="621.5" width="248" height="177" rx="8" fill="none" stroke="#d4ad5c" stroke-width="3"/>
<!-- ribbons -->
<path d="M1066 636 L1080 643 L1068 678 L1061 670 L1051 675 Z" fill="url(#gold)" stroke="#9a7430" stroke-width="1.5" stroke-linejoin="round"/>
<path d="M1094 636 L1080 643 L1092 678 L1099 670 L1109 675 Z" fill="url(#gold)" stroke="#9a7430" stroke-width="1.5" stroke-linejoin="round"/>
<!-- medal -->
<circle cx="1080" cy="620" r="32" fill="none" stroke="#d6ab55" stroke-width="8" stroke-dasharray="6.5 6.07"/>
<circle cx="1080" cy="620" r="30" fill="url(#gold)" stroke="#9a7430" stroke-width="1.5"/>
<circle cx="1080" cy="620" r="23" fill="#e3c27a" stroke="#a88035" stroke-width="2"/>
<path d="M1069 620 L1077 629 L1092 612" fill="none" stroke="#9a7430" stroke-width="5" stroke-linecap="round" stroke-linejoin="round"/>
<g font-size="22.5" fill="#fff">
<text x="1081" y="708" text-anchor="middle" textLength="212" lengthAdjust="spacingAndGlyphs">HIRING DECISIONS AS</text>
<text x="1080" y="733" text-anchor="middle" textLength="166" lengthAdjust="spacingAndGlyphs">EXECUTION-RISK</text>
<text x="1080" y="757" text-anchor="middle" textLength="197" lengthAdjust="spacingAndGlyphs">ASSESSMENTS, NOT</text>
<text x="1079" y="780" text-anchor="middle" textLength="192" lengthAdjust="spacingAndGlyphs">INFORMAL OPINION</text>
</g>
<!-- sparkle -->
<path d="M1209 770 Q1211 788 1231 791 Q1211 794 1209 813 Q1207 794 1187 791 Q1207 788 1209 770 Z" fill="#eef2f6" opacity="0.85"/>
</svg>
</body></html>
